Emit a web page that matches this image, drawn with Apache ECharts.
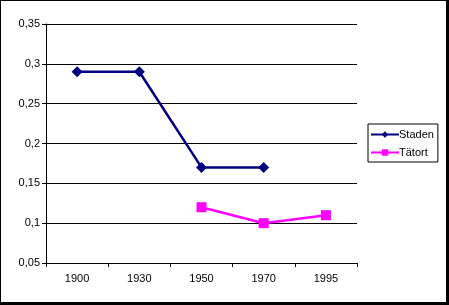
<!DOCTYPE html>
<html><head><meta charset="utf-8">
<script src="https://cdn.jsdelivr.net/npm/echarts@6/dist/echarts.min.js"></script>
<style>
html,body{margin:0;padding:0;background:#fff;}
#c{width:449px;height:305px;box-sizing:border-box;border-left:1px solid #000;border-top:1px solid #000;border-right:3px solid #000;border-bottom:3px solid #000;}
</style></head>
<body><div id="c"></div>
<script>
var categories = ['1900','1930','1950','1970','1995'];
var staden = [0.29, 0.29, 0.17, 0.17, null];
var tatort = [null, null, 0.12, 0.10, 0.11];
var seriesNames = ['Staden','Tätort'];

var chart = echarts.init(document.getElementById('c'), null, {renderer:'canvas'});
var font = 'Liberation Sans, Arial, sans-serif';
chart.setOption({
  animation:false,
  grid:{left:45, right:89, top:23, bottom:39},
  legend:{
    orient:'vertical', left:367, top:123,
    data:seriesNames,
    borderColor:'#000', borderWidth:1, borderRadius:0,
    padding:[4,4,3,2], itemGap:5, itemWidth:28, itemHeight:8,
    textStyle:{fontFamily:font, fontSize:11, lineHeight:13, color:'#000', padding:[0,0,0,-5]}
  },
  xAxis:{
    type:'category', data:categories, boundaryGap:true,
    axisLine:{lineStyle:{color:'#000', width:1}},
    axisTick:{show:true, length:4, lineStyle:{color:'#000'}},
    axisLabel:{color:'#000', fontFamily:font, fontSize:11, margin:10}
  },
  yAxis:{
    type:'value', min:0.05, max:0.35, interval:0.05,
    axisLine:{show:true, lineStyle:{color:'#000', width:1}},
    axisTick:{show:true, length:4, lineStyle:{color:'#000'}},
    splitLine:{lineStyle:{color:'#000', width:1}},
    axisLabel:{color:'#000', fontFamily:font, fontSize:11, margin:6,
      formatter:function(v){return String(Math.round(v*100)/100).replace('.',',');}}
  },
  series:[
    {name:seriesNames[0], type:'line', data:staden, color:'#000080',
     symbol:'diamond', symbolSize:11, lineStyle:{width:2.5, color:'#000080'},
     itemStyle:{color:'#000080'}, connectNulls:false},
    {name:seriesNames[1], type:'line', data:tatort, color:'#FF00FF',
     symbol:'rect', symbolSize:10, lineStyle:{width:2.5, color:'#FF00FF'},
     itemStyle:{color:'#FF00FF'}, connectNulls:false}
  ]
});
</script></body></html>
